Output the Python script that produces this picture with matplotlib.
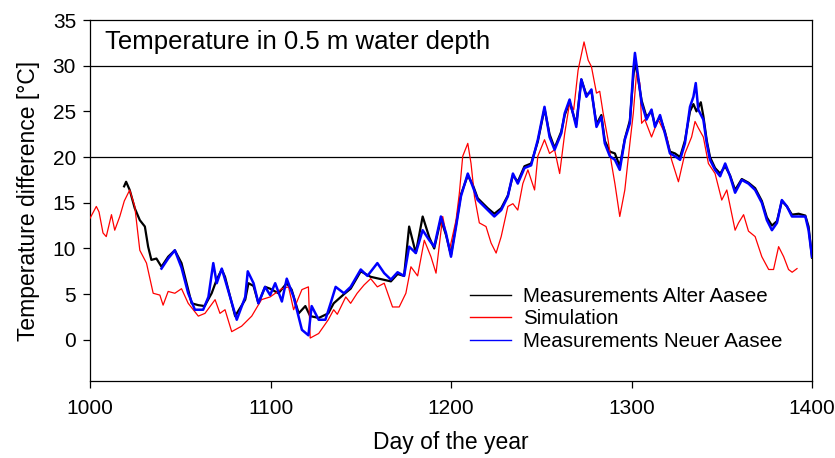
import matplotlib
matplotlib.use("Agg")
import matplotlib.pyplot as plt

plt.rcParams["font.family"] = ["Liberation Sans", "DejaVu Sans"]

# simulated temperature (red)
sim_day = [
    1000, 1003.5, 1005, 1007.2, 1009, 1011.9, 1013.7, 1016.5, 1019, 1022,
    1024.8, 1027.6, 1031.3, 1035, 1038.7, 1040.5, 1043.3, 1047, 1050.7, 1054.4,
    1060, 1063.7, 1069.3, 1072, 1074.8, 1078.5, 1084, 1089.6, 1095, 1099.8,
    1106.3, 1110, 1112.8, 1117.4, 1121, 1122, 1126.7, 1132, 1135, 1137,
    1141.7, 1144.4, 1148, 1151.8, 1155.5, 1159.2, 1163, 1167.6, 1171.3, 1175,
    1177.8, 1181.5, 1185.2, 1188.9, 1191.7, 1195.4, 1199.1, 1202.8, 1204.6, 1206.5,
    1209.3, 1211.1, 1213, 1215.7, 1219.4, 1222.2, 1225, 1227.8, 1231.5, 1234.3,
    1237, 1239.8, 1242.6, 1246.3, 1248.1, 1251.8, 1254.6, 1257.4, 1260.2, 1263,
    1265.7, 1268, 1270.4, 1273.7, 1276, 1277.8, 1280.6, 1282.4, 1284.3, 1287,
    1288.9, 1290.8, 1293.5, 1296.3, 1299.1, 1301, 1302.8, 1304.6, 1305.6, 1307.4,
    1311.1, 1314.8, 1319.5, 1322.2, 1326, 1329.6, 1333.3, 1335.2, 1337, 1339.8,
    1342.6, 1346.3, 1350, 1352.8, 1357.4, 1359.3, 1362.1, 1364.8, 1368.5, 1372.2,
    1376, 1378.7, 1381.5, 1384.3, 1387, 1389, 1391.7,
]
sim_temp = [
    13.3, 14.6, 14.0, 11.7, 11.3, 13.7, 12.0, 13.5, 15.2, 16.4,
    14.6, 9.8, 8.4, 5.1, 4.9, 3.8, 5.3, 5.1, 5.6, 4.0,
    2.6, 2.9, 4.4, 2.9, 3.3, 0.9, 1.5, 2.6, 4.4, 4.7,
    5.6, 5.8, 3.3, 5.5, 5.8, 0.2, 0.7, 2.2, 3.3, 2.8,
    4.7, 4.0, 5.1, 6.0, 6.7, 5.8, 6.2, 3.6, 3.6, 5.1,
    8.0, 7.0, 10.9, 9.1, 7.3, 13.5, 9.8, 13.1, 16.0, 20.1,
    21.5, 19.3, 15.7, 12.8, 12.4, 10.6, 9.5, 11.3, 14.6, 14.9,
    14.2, 17.1, 18.6, 16.4, 20.1, 21.9, 20.4, 20.8, 18.2, 22.6,
    25.9, 25.2, 29.5, 32.6, 30.6, 29.9, 27.0, 27.2, 24.8, 21.9,
    19.3, 17.1, 13.5, 16.4, 21.5, 24.8, 29.2, 28.1, 23.7, 24.1,
    22.2, 24.1, 22.2, 19.7, 17.3, 20.4, 22.2, 23.9, 23.2, 22.2,
    19.3, 18.2, 15.3, 16.4, 12.0, 12.8, 13.7, 11.9, 11.3, 9.1,
    7.7, 7.7, 10.2, 9.1, 7.7, 7.4, 7.8,
]

# measurements Alter Aasee (black)
alt_day = [
    1018.9, 1020, 1022, 1024.8, 1027.6, 1030.4, 1032.2, 1034, 1036.8, 1039.6,
    1043.3, 1047, 1050.7, 1053.5, 1056.3, 1060, 1063.5, 1067.4, 1070.2, 1073,
    1074.8, 1080.4, 1086, 1087.8, 1090.6, 1093.3, 1097, 1099.8, 1104.4, 1109,
    1111.7, 1115.6, 1119.3, 1122, 1126.7, 1132, 1135, 1140.7, 1144.4, 1150,
    1155.5, 1166.7, 1170.4, 1174, 1176.8, 1180.5, 1184.3, 1188, 1190.7, 1194.4,
    1197.2, 1200, 1202.8, 1205.5, 1209.3, 1212, 1214.8, 1220.4, 1224, 1227.8,
    1231.5, 1234.3, 1237, 1240.7, 1244.4, 1248.1, 1251.8, 1254.6, 1257.4, 1261.1,
    1263, 1265.7, 1269.4, 1272.2, 1275, 1277.8, 1280.6, 1283.3, 1285.2, 1288,
    1290.8, 1293.5, 1296.3, 1299.1, 1301, 1301.9, 1303.7, 1305.6, 1308.3, 1311.1,
    1313, 1315.8, 1318.5, 1321.3, 1324.1, 1326.9, 1329.6, 1332.4, 1334.3, 1336,
    1338.4, 1339.8, 1341.7, 1343.5, 1346.3, 1349.1, 1351.9, 1354.6, 1357.4, 1361.1,
    1364.8, 1368.5, 1372.2, 1375, 1377.8, 1380.6, 1383.3, 1386.1, 1388.9, 1392.6,
    1396.3, 1398.1, 1400,
]
alt_temp = [
    16.8, 17.3, 16.4, 14.4, 13.1, 12.4, 10.2, 8.75, 8.9, 8.0,
    9.1, 9.8, 8.4, 6.2, 4.0, 3.8, 3.7, 5.1, 6.6, 7.7,
    6.9, 2.6, 4.4, 6.2, 5.9, 4.0, 5.8, 5.6, 5.1, 6.2,
    5.5, 2.9, 3.7, 2.6, 2.4, 2.9, 4.0, 5.0, 5.6, 7.5,
    6.9, 6.4, 7.2, 7.0, 12.4, 9.5, 13.5, 11.2, 10.0, 13.2,
    11.5, 9.3, 12.6, 15.9, 18.0, 17.0, 15.5, 14.4, 13.8, 14.4,
    15.8, 18.0, 17.3, 19.0, 19.3, 21.7, 25.3, 22.5, 21.0, 22.8,
    24.6, 26.0, 23.6, 28.5, 26.8, 27.2, 23.6, 24.6, 21.8, 20.6,
    20.4, 19.0, 22.0, 24.0, 28.8, 30.5, 28.5, 26.2, 24.4, 25.0,
    23.5, 24.4, 22.8, 20.6, 20.4, 20.0, 21.8, 25.0, 25.8, 25.0,
    26.0, 24.5, 21.8, 20.0, 18.8, 18.2, 19.0, 18.0, 16.4, 17.6,
    17.2, 16.6, 15.2, 13.4, 12.5, 13.0, 15.2, 14.6, 13.7, 13.8,
    13.6, 12.4, 9.0,
]

# measurements Neuer Aasee (blue)
neu_day = [
    1039.6, 1043.3, 1047, 1050.7, 1054.4, 1058.1, 1062.7, 1065.6, 1068.3, 1070.2,
    1073, 1074.8, 1081.3, 1086, 1087.4, 1090.6, 1093.3, 1097, 1099.8, 1102.6,
    1106.3, 1109, 1112.8, 1117.4, 1121, 1122.8, 1126.7, 1130.4, 1133.3, 1136.1,
    1140.7, 1144.4, 1150, 1153.7, 1159.2, 1163, 1166.7, 1170.4, 1174, 1176.8,
    1180.5, 1184.3, 1188, 1190.7, 1194.4, 1197.2, 1200, 1202.8, 1205.5, 1209.3,
    1212, 1214.8, 1220.4, 1224, 1227.8, 1231.5, 1234.3, 1237, 1240.7, 1244.4,
    1248.1, 1251.8, 1254.6, 1257.4, 1261.1, 1263, 1265.7, 1269.4, 1272.2, 1275,
    1277.8, 1280.6, 1283.3, 1285.2, 1288, 1290.8, 1293.5, 1296.3, 1299.1, 1301,
    1301.9, 1303.7, 1305.6, 1308.3, 1311.1, 1313, 1315.8, 1318.5, 1321.3, 1324.1,
    1326.9, 1329.6, 1332.4, 1334.3, 1335.6, 1337, 1339.8, 1341.7, 1343.5, 1346.3,
    1349.1, 1351.9, 1354.6, 1357.4, 1361.1, 1364.8, 1368.5, 1372.2, 1375, 1377.8,
    1380.6, 1383.3, 1386.1, 1388.9, 1392.6, 1396.3, 1398.1, 1400,
]
neu_temp = [
    7.8, 8.9, 9.8, 7.9, 5.1, 3.3, 3.3, 4.7, 8.4, 6.2,
    7.8, 6.6, 2.2, 4.7, 7.5, 6.2, 4.0, 5.8, 4.9, 6.2,
    4.2, 6.7, 4.7, 1.1, 0.5, 3.7, 2.2, 2.2, 4.0, 5.8,
    5.1, 5.8, 7.7, 7.0, 8.4, 7.3, 6.6, 7.4, 7.0, 10.2,
    9.5, 12.0, 10.9, 10.2, 13.5, 11.7, 9.1, 12.4, 15.7, 18.2,
    16.8, 15.3, 14.2, 13.5, 14.2, 15.7, 18.2, 17.1, 18.8, 19.1,
    21.9, 25.5, 22.2, 20.8, 22.6, 24.8, 26.3, 23.3, 28.5, 26.6,
    27.4, 23.3, 24.4, 21.5, 20.1, 19.7, 18.6, 21.9, 23.7, 29.5,
    31.4, 28.8, 25.9, 24.1, 25.2, 23.3, 24.6, 22.6, 20.4, 20.1,
    19.7, 21.5, 25.5, 26.6, 28.1, 25.2, 24.1, 21.5, 19.7, 18.6,
    17.9, 19.3, 17.9, 16.1, 17.5, 17.1, 16.4, 15.0, 13.1, 12.0,
    12.8, 15.3, 14.6, 13.5, 13.5, 13.5, 12.0, 9.1,
]

y_ticks = [0, 5, 10, 15, 20, 25, 30, 35]
x_ticks = [1000, 1100, 1200, 1300, 1400]
ref_lines = [20, 30]

fig = plt.figure(figsize=(8.35, 4.58), dpi=100)
ax = fig.add_axes([90 / 835, 1 - 381 / 458, 722 / 835, 361 / 458])

for y in ref_lines:
    ax.axhline(y, color="black", lw=0.9, zorder=1)

ax.plot(alt_day, alt_temp, color="black", lw=1.6, label="Measurements Alter Aasee", zorder=2)
ax.plot(sim_day, sim_temp, color="#ff0000", lw=0.9, label="Simulation", zorder=3)
ax.plot(neu_day, neu_temp, color="#0000ff", lw=1.8, label="Measurements Neuer Aasee", zorder=4)

ax.set_xlim(1000, 1400)
ax.set_ylim(-4.5, 35)
ax.set_xticks(x_ticks)
ax.set_yticks(y_ticks)
ax.tick_params(direction="out", length=5, width=0.9, labelsize=15)
ax.tick_params(axis="x", pad=8)
ax.tick_params(axis="y", pad=5)
for s in ax.spines.values():
    s.set_linewidth(0.9)

ax.set_xlabel("Day of the year", fontsize=16.5, labelpad=9)
ax.set_ylabel("Temperature difference [°C]", fontsize=16.5, labelpad=9)

ax.text(1008.5, 32.6, "Temperature in 0.5 m water depth", fontsize=18.5, va="center", ha="left")

leg = ax.legend(loc="upper left", bbox_to_anchor=(0.515, 0.284), frameon=False, fontsize=14.8,
                handlelength=2.0, handletextpad=0.58, labelspacing=0.18, borderaxespad=0)
for h in leg.get_lines():
    h.set_linewidth(1.0)

fig.savefig("out.png", dpi=100)
